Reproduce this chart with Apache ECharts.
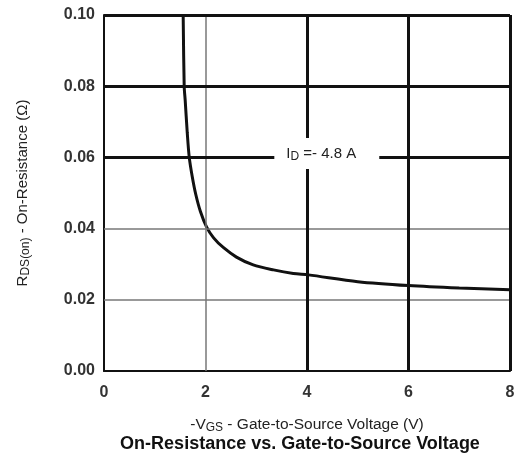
<!DOCTYPE html>
<html>
<head>
<meta charset="utf-8">
<script src="https://cdn.jsdelivr.net/npm/echarts@6/dist/echarts.min.js"></script>
<style>
html,body{margin:0;padding:0;background:#fff;}
#chart{width:518px;height:459px;}
</style>
</head>
<body>
<div id="chart"></div>
<script>
// -VGS (V) and RDS(on) (ohm) along the ID = -4.8 A curve
const vgs = [1.56, 1.58, 1.60, 1.64, 1.68, 1.74, 1.81, 1.90, 2.02, 2.16, 2.35, 2.61, 2.94, 3.34, 3.73, 4.03, 5.0, 6.0, 7.0, 8.0];
const rds = [0.100, 0.080, 0.076, 0.067, 0.060, 0.0545, 0.0495, 0.0448, 0.0405, 0.0374, 0.0347, 0.0320, 0.0298, 0.0284, 0.0274, 0.0270, 0.0251, 0.0240, 0.0233, 0.0228];

// grid lines: heavy and light rules
const heavyY = [0.06, 0.08, 0.10];
const lightY = [0.02, 0.04];
const heavyX = [4, 6, 8];
const lightX = [2];

// curve annotation anchor (V, ohm)
const annotation = { text: 'I{sub|D} =- 4.8 A', at: [4.39, 0.0611] };

const heavy = { color: '#111', width: 3, type: 'solid' };
const light = { color: '#777', width: 1.5, type: 'solid' };

const ruleData = []
  .concat(lightY.map(v => ({ yAxis: v, lineStyle: light })))
  .concat(lightX.map(v => ({ xAxis: v, lineStyle: light })))
  .concat(heavyY.map(v => ({ yAxis: v, lineStyle: heavy })))
  .concat(heavyX.map(v => ({ xAxis: v, lineStyle: heavy })));

const font = 'Liberation Sans, Arial, sans-serif';

const chart = echarts.init(document.getElementById('chart'), null, { renderer: 'canvas' });
chart.setOption({
  animation: false,
  backgroundColor: '#fff',
  textStyle: { fontFamily: font },
  title: {
    text: 'On-Resistance vs. Gate-to-Source Voltage',
    left: 300, top: 435, padding: 0, textAlign: 'center',
    textStyle: { fontSize: 18, fontWeight: 'bold', color: '#111', fontFamily: font }
  },
  grid: { left: 104, top: 15, right: 8, bottom: 88, containLabel: false },
  xAxis: {
    type: 'value', min: 0, max: 8, interval: 2,
    axisLine: { show: true, lineStyle: { color: '#111', width: 2 } },
    axisTick: { show: false },
    splitLine: { show: false },
    axisLabel: { margin: 14, fontSize: 16, fontWeight: 'bold', color: '#333' },
    name: '-V{sub|GS} - Gate-to-Source Voltage (V)',
    nameLocation: 'middle', nameGap: 44,
    nameTextStyle: {
      fontSize: 15.5, color: '#222',
      rich: { sub: { fontSize: 12, color: '#222', padding: [7, 0, 0, 0] } }
    }
  },
  yAxis: {
    type: 'value', min: 0, max: 0.1, interval: 0.02,
    axisLine: { show: true, lineStyle: { color: '#111', width: 2 } },
    axisTick: { show: false },
    splitLine: { show: false },
    axisLabel: { margin: 9, fontSize: 16, fontWeight: 'bold', color: '#333', formatter: v => v.toFixed(2) },
    name: 'R{sub|DS(on)} - On-Resistance (Ω)',
    nameLocation: 'middle', nameGap: 72, nameRotate: 90,
    nameTextStyle: {
      fontSize: 15, color: '#222',
      rich: { sub: { fontSize: 12, color: '#222', padding: [7, 0, 0, 0] } }
    }
  },
  series: [
    {
      name: 'rules', type: 'line', data: [], z: 1, silent: true,
      markLine: { silent: true, symbol: 'none', label: { show: false }, animation: false, data: ruleData }
    },
    {
      name: 'RDS(on)', type: 'line', z: 3,
      data: vgs.map((v, i) => [v, rds[i]]),
      showSymbol: false, smooth: 0.3,
      lineStyle: { color: '#111', width: 3 }
    },
    {
      name: 'label', type: 'scatter', z: 5, silent: true,
      data: [annotation.at], symbolSize: 0,
      itemStyle: { opacity: 1 },
      label: {
        show: true, position: 'inside', formatter: annotation.text,
        backgroundColor: '#fff', padding: [6, 23, 6, 12],
        fontSize: 15, color: '#222',
        rich: { sub: { fontSize: 12, color: '#222', padding: [7, 0, 0, 0] } }
      }
    }
  ]
});
</script>
</body>
</html>
